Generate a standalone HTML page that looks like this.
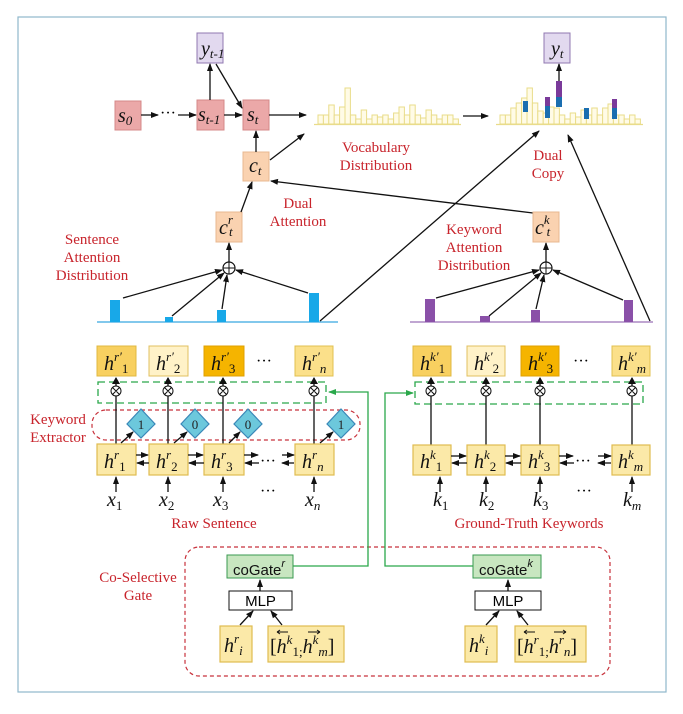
<!DOCTYPE html>
<html><head><meta charset="utf-8"><style>
html,body{margin:0;padding:0;background:#fff;}
svg{display:block;}
.s{font-family:"Liberation Serif",serif;}
.r{fill:#c8242c;font-size:15px;font-family:"Liberation Serif",serif;text-anchor:middle;}
.m{font-family:"Liberation Serif",serif;font-style:italic;font-size:20px;fill:#111;}
.sub{font-size:13px;}
.ln{stroke:#111;stroke-width:1.3;fill:none;}
.hb{fill:#fbe9a8;stroke:#e0bc50;stroke-width:1.2;}
.vb{fill:#fffbe6;stroke:#e9dc8a;stroke-width:1;}
</style></head><body>
<svg width="683" height="714" viewBox="0 0 683 714" xmlns="http://www.w3.org/2000/svg">
<defs>
<marker id="a" markerWidth="8" markerHeight="8" refX="7" refY="4" orient="auto" markerUnits="userSpaceOnUse"><path d="M0,1 L8,4 L0,7 z" fill="#111"/></marker>
<marker id="g" markerWidth="8" markerHeight="8" refX="7" refY="4" orient="auto" markerUnits="userSpaceOnUse"><path d="M0,1 L8,4 L0,7 z" fill="#2aa84a"/></marker>
</defs>
<rect x="18" y="17" width="648" height="675" fill="none" stroke="#8fb8cc" stroke-width="1.2"/>

<!-- decoder -->
<rect x="197" y="33" width="26" height="30" fill="#e2d9ef" stroke="#9078b0"/>
<text x="201" y="55" class="m">y<tspan class="sub" dy="3">t-1</tspan></text>
<rect x="115" y="101" width="26" height="29" fill="#eba8a8" stroke="#d48888"/>
<text x="118" y="122" class="m">s<tspan class="sub" dy="3">0</tspan></text>
<rect x="197" y="100" width="27" height="30" fill="#eba8a8" stroke="#d48888"/>
<text x="198" y="121" class="m">s<tspan class="sub" dy="3">t-1</tspan></text>
<rect x="243" y="100" width="26" height="30" fill="#eba8a8" stroke="#d48888"/>
<text x="247" y="121" class="m">s<tspan class="sub" dy="3">t</tspan></text>
<line x1="141" y1="115" x2="158" y2="115" class="ln" marker-end="url(#a)"/>
<text x="160" y="118" class="s" font-size="16">···</text>
<line x1="178" y1="115" x2="196" y2="115" class="ln" marker-end="url(#a)"/>
<line x1="224" y1="115" x2="242" y2="115" class="ln" marker-end="url(#a)"/>
<line x1="210" y1="100" x2="210" y2="64" class="ln" marker-end="url(#a)"/>
<line x1="216" y1="64" x2="242" y2="108" class="ln" marker-end="url(#a)"/>
<line x1="269" y1="115" x2="306" y2="115" class="ln" marker-end="url(#a)"/>
<rect x="243" y="152" width="26" height="29" fill="#fad2b0" stroke="#e8b890"/>
<text x="249" y="172" class="m">c<tspan class="sub" dy="3">t</tspan></text>
<line x1="256" y1="152" x2="256" y2="131" class="ln" marker-end="url(#a)"/>
<line x1="270" y1="160" x2="304" y2="134" class="ln" marker-end="url(#a)"/>
<rect x="216" y="212" width="26" height="30" fill="#fad2b0" stroke="#e8b890"/>
<text x="219" y="234" class="m">c<tspan class="sub" dy="-10">r</tspan><tspan class="sub" dx="-4" dy="12">t</tspan></text>
<line x1="241" y1="212" x2="252" y2="182" class="ln" marker-end="url(#a)"/>
<line x1="533" y1="213" x2="271" y2="181" class="ln" marker-end="url(#a)"/>

<!-- vocab hist -->
<g class="vb">
<rect x="318" y="115" width="5.4" height="9"/><rect x="323.4" y="115" width="5.4" height="9"/><rect x="328.8" y="105" width="5.4" height="19"/><rect x="334.2" y="115" width="5.4" height="9"/><rect x="339.6" y="107" width="5.4" height="17"/><rect x="345" y="88" width="5.4" height="36"/><rect x="350.4" y="115" width="5.4" height="9"/><rect x="355.8" y="119" width="5.4" height="5"/><rect x="361.2" y="110" width="5.4" height="14"/><rect x="366.6" y="119" width="5.4" height="5"/><rect x="372" y="115" width="5.4" height="9"/><rect x="377.4" y="117" width="5.4" height="7"/><rect x="382.8" y="115" width="5.4" height="9"/><rect x="388.2" y="119" width="5.4" height="5"/><rect x="393.6" y="113" width="5.4" height="11"/><rect x="399" y="107" width="5.4" height="17"/><rect x="404.4" y="115" width="5.4" height="9"/><rect x="409.8" y="105" width="5.4" height="19"/><rect x="415.2" y="115" width="5.4" height="9"/><rect x="420.6" y="118" width="5.4" height="6"/><rect x="426" y="110" width="5.4" height="14"/><rect x="431.4" y="115" width="5.4" height="9"/><rect x="436.8" y="119" width="5.4" height="5"/><rect x="442.2" y="115" width="5.4" height="9"/><rect x="447.6" y="115" width="5.4" height="9"/><rect x="453" y="119" width="5.4" height="5"/>
</g>
<line x1="314" y1="124.5" x2="461" y2="124.5" stroke="#e9dc8a" stroke-width="1.2"/>
<line x1="463" y1="116" x2="488" y2="116" class="ln" marker-end="url(#a)"/>
<!-- dual copy hist -->
<g class="vb">
<rect x="500" y="115" width="5.4" height="9"/><rect x="505.4" y="115" width="5.4" height="9"/><rect x="510.8" y="108" width="5.4" height="16"/><rect x="516.2" y="103" width="5.4" height="21"/><rect x="521.6" y="98" width="5.4" height="26"/><rect x="527" y="88" width="5.4" height="36"/><rect x="532.4" y="103" width="5.4" height="21"/><rect x="537.8" y="111" width="5.4" height="13"/><rect x="543.2" y="113" width="5.4" height="11"/><rect x="548.6" y="107" width="5.4" height="17"/><rect x="554" y="108" width="5.4" height="16"/><rect x="559.4" y="115" width="5.4" height="9"/><rect x="564.8" y="119" width="5.4" height="5"/><rect x="570.2" y="113" width="5.4" height="11"/><rect x="575.6" y="117" width="5.4" height="7"/><rect x="581" y="110" width="5.4" height="14"/><rect x="586.4" y="115" width="5.4" height="9"/><rect x="591.8" y="108" width="5.4" height="16"/><rect x="597.2" y="115" width="5.4" height="9"/><rect x="602.6" y="108" width="5.4" height="16"/><rect x="608" y="104" width="5.4" height="20"/><rect x="613.4" y="115" width="5.4" height="9"/><rect x="618.8" y="115" width="5.4" height="9"/><rect x="624.2" y="119" width="5.4" height="5"/><rect x="629.6" y="115" width="5.4" height="9"/><rect x="635" y="119" width="5.4" height="5"/>
</g>
<line x1="496" y1="124.5" x2="643" y2="124.5" stroke="#e9dc8a" stroke-width="1.2"/>
<rect x="523" y="101" width="5" height="11" fill="#1a6eb0"/>
<rect x="545" y="97" width="5" height="9" fill="#7a3a9a"/><rect x="545" y="106" width="5" height="12" fill="#1a6eb0"/>
<rect x="556" y="81" width="6" height="16" fill="#7a3a9a"/><rect x="556" y="97" width="6" height="10" fill="#1a6eb0"/>
<rect x="584" y="108" width="5" height="11" fill="#1a6eb0"/>
<rect x="612" y="99" width="5" height="9" fill="#7a3a9a"/><rect x="612" y="108" width="5" height="11" fill="#1a6eb0"/>
<line x1="559" y1="81" x2="559" y2="64" class="ln" marker-end="url(#a)"/>
<rect x="544" y="33" width="26" height="30" fill="#e2d9ef" stroke="#9078b0"/>
<text x="551" y="55" class="m">y<tspan class="sub" dy="3">t</tspan></text>

<text x="376" y="152" class="r">Vocabulary</text>
<text x="376" y="170" class="r">Distribution</text>
<text x="298" y="208" class="r">Dual</text>
<text x="298" y="226" class="r">Attention</text>
<text x="548" y="160" class="r">Dual</text>
<text x="548" y="178" class="r">Copy</text>
<text x="92" y="244" class="r">Sentence</text>
<text x="92" y="262" class="r">Attention</text>
<text x="92" y="280" class="r">Distribution</text>
<text x="474" y="234" class="r">Keyword</text>
<text x="474" y="252" class="r">Attention</text>
<text x="474" y="270" class="r">Distribution</text>

<!-- sentence attention -->
<line x1="97" y1="322" x2="338" y2="322" stroke="#38a8e0" stroke-width="1.3"/>
<rect x="110" y="300" width="10" height="22" fill="#18a8e8"/>
<rect x="165" y="317" width="8" height="5" fill="#18a8e8"/>
<rect x="217" y="310" width="9" height="12" fill="#18a8e8"/>
<rect x="309" y="293" width="10" height="29" fill="#18a8e8"/>
<circle cx="229" cy="268" r="6" fill="#fff" stroke="#111" stroke-width="1.2"/>
<path d="M223,268H235M229,262V274" stroke="#111" stroke-width="1"/>
<line x1="123" y1="298" x2="222" y2="270" class="ln" marker-end="url(#a)"/>
<line x1="172" y1="316" x2="224" y2="273" class="ln" marker-end="url(#a)"/>
<line x1="222" y1="309" x2="227" y2="275" class="ln" marker-end="url(#a)"/>
<line x1="308" y1="293" x2="236" y2="270" class="ln" marker-end="url(#a)"/>
<line x1="229" y1="262" x2="229" y2="243" class="ln" marker-end="url(#a)"/>
<line x1="320" y1="321" x2="539" y2="131" class="ln" marker-end="url(#a)"/>

<!-- keyword attention -->
<line x1="410" y1="322" x2="653" y2="322" stroke="#9a70b8" stroke-width="1.3"/>
<rect x="425" y="299" width="10" height="23" fill="#8a50a8"/>
<rect x="480" y="316" width="10" height="6" fill="#8a50a8"/>
<rect x="531" y="310" width="9" height="12" fill="#8a50a8"/>
<rect x="624" y="300" width="9" height="22" fill="#8a50a8"/>
<circle cx="546" cy="268" r="6" fill="#fff" stroke="#111" stroke-width="1.2"/>
<path d="M540,268H552M546,262V274" stroke="#111" stroke-width="1"/>
<line x1="436" y1="298" x2="539" y2="270" class="ln" marker-end="url(#a)"/>
<line x1="489" y1="316" x2="541" y2="273" class="ln" marker-end="url(#a)"/>
<line x1="536" y1="309" x2="544" y2="275" class="ln" marker-end="url(#a)"/>
<line x1="623" y1="300" x2="553" y2="270" class="ln" marker-end="url(#a)"/>
<line x1="546" y1="262" x2="546" y2="243" class="ln" marker-end="url(#a)"/>
<rect x="533" y="212" width="26" height="30" fill="#fad2b0" stroke="#e8b890"/>
<text x="535" y="234" class="m">c<tspan class="sub" dy="-10">k</tspan><tspan class="sub" dx="-3" dy="12">t</tspan></text>
<line x1="650" y1="321" x2="568" y2="135" class="ln" marker-end="url(#a)"/>

<!-- raw sentence encoder -->
<rect x="98" y="382" width="228" height="21" fill="none" stroke="#2aa84a" stroke-width="1.3" stroke-dasharray="7,4"/>
<rect x="92" y="410" width="268" height="30" rx="14" fill="none" stroke="#c8323c" stroke-width="1.2" stroke-dasharray="4,3"/>
<g stroke="#111" stroke-width="1.3">
<line x1="116" y1="444" x2="116" y2="378"/><line x1="168" y1="444" x2="168" y2="378"/><line x1="223" y1="444" x2="223" y2="378"/><line x1="314" y1="444" x2="314" y2="378"/>
</g>
<g fill="#111"><path d="M112,384L116,377L120,384z"/><path d="M164,384L168,377L172,384z"/><path d="M219,384L223,377L227,384z"/><path d="M310,384L314,377L318,384z"/></g>
<g fill="#fff" stroke="#111" stroke-width="1"><circle cx="116" cy="391" r="5"/><circle cx="168" cy="391" r="5"/><circle cx="223" cy="391" r="5"/><circle cx="314" cy="391" r="5"/></g>
<g stroke="#111" stroke-width="1"><path d="M112.5,387.5l7,7M119.5,387.5l-7,7M164.5,387.5l7,7M171.5,387.5l-7,7M219.5,387.5l7,7M226.5,387.5l-7,7M310.5,387.5l7,7M317.5,387.5l-7,7"/></g>
<rect x="97" y="346" width="39" height="30" fill="#f8d060" stroke="#e0b840"/>
<rect x="149" y="346" width="39" height="30" fill="#fff2c8" stroke="#e0c060"/>
<rect x="204" y="346" width="40" height="30" fill="#f5b400" stroke="#e0a000"/>
<rect x="295" y="346" width="38" height="30" fill="#fbe08a" stroke="#e0c050"/>
<text x="104" y="370" class="m">h<tspan class="sub" dy="-9">r′</tspan><tspan class="sub" dy="12" font-style="normal">1</tspan></text>
<text x="156" y="370" class="m">h<tspan class="sub" dy="-9">r′</tspan><tspan class="sub" dy="12" font-style="normal">2</tspan></text>
<text x="211" y="370" class="m">h<tspan class="sub" dy="-9">r′</tspan><tspan class="sub" dy="12" font-style="normal">3</tspan></text>
<text x="302" y="370" class="m">h<tspan class="sub" dy="-9">r′</tspan><tspan class="sub" dy="12">n</tspan></text>
<text x="256" y="366" class="s" font-size="16">···</text>
<g fill="#6cc8dc" stroke="#3a88b8" stroke-width="1.2">
<path d="M141,409L155,424L141,438L127,424z"/><path d="M195,409L209,424L195,438L181,424z"/><path d="M248,409L262,424L248,438L234,424z"/><path d="M341,409L355,424L341,438L327,424z"/>
</g>
<g class="s" font-size="13" text-anchor="middle" fill="#222"><text x="141" y="429">1</text><text x="195" y="429">0</text><text x="248" y="429">0</text><text x="341" y="429">1</text></g>
<line x1="121" y1="443" x2="133" y2="432" class="ln" marker-end="url(#a)"/>
<line x1="174" y1="443" x2="187" y2="432" class="ln" marker-end="url(#a)"/>
<line x1="229" y1="443" x2="240" y2="432" class="ln" marker-end="url(#a)"/>
<line x1="320" y1="443" x2="333" y2="432" class="ln" marker-end="url(#a)"/>
<text x="58" y="424" class="r">Keyword</text>
<text x="58" y="442" class="r">Extractor</text>
<g class="hb"><rect x="97" y="444" width="39" height="31"/><rect x="149" y="444" width="39" height="31"/><rect x="204" y="444" width="40" height="31"/><rect x="295" y="444" width="39" height="31"/></g>
<text x="104" y="468" class="m">h<tspan class="sub" dy="-9">r</tspan><tspan class="sub" dy="12" font-style="normal">1</tspan></text>
<text x="156" y="468" class="m">h<tspan class="sub" dy="-9">r</tspan><tspan class="sub" dy="12" font-style="normal">2</tspan></text>
<text x="211" y="468" class="m">h<tspan class="sub" dy="-9">r</tspan><tspan class="sub" dy="12" font-style="normal">3</tspan></text>
<text x="302" y="468" class="m">h<tspan class="sub" dy="-9">r</tspan><tspan class="sub" dy="12">n</tspan></text>
<g>
<line x1="136" y1="455" x2="148" y2="455" class="ln" marker-end="url(#a)"/><line x1="149" y1="463" x2="137" y2="463" class="ln" marker-end="url(#a)"/>
<line x1="188" y1="455" x2="203" y2="455" class="ln" marker-end="url(#a)"/><line x1="204" y1="463" x2="189" y2="463" class="ln" marker-end="url(#a)"/>
<line x1="244" y1="455" x2="258" y2="455" class="ln" marker-end="url(#a)"/><line x1="259" y1="463" x2="245" y2="463" class="ln" marker-end="url(#a)"/>
<line x1="282" y1="455" x2="294" y2="455" class="ln" marker-end="url(#a)"/><line x1="294" y1="463" x2="282" y2="463" class="ln" marker-end="url(#a)"/>
</g>
<text x="260" y="466" class="s" font-size="16">···</text>
<g class="ln"><line x1="116" y1="492" x2="116" y2="477" marker-end="url(#a)"/><line x1="168" y1="492" x2="168" y2="477" marker-end="url(#a)"/><line x1="223" y1="492" x2="223" y2="477" marker-end="url(#a)"/><line x1="314" y1="492" x2="314" y2="477" marker-end="url(#a)"/></g>
<text x="107" y="506" class="m">x<tspan class="sub" dy="4" font-style="normal">1</tspan></text>
<text x="159" y="506" class="m">x<tspan class="sub" dy="4" font-style="normal">2</tspan></text>
<text x="213" y="506" class="m">x<tspan class="sub" dy="4" font-style="normal">3</tspan></text>
<text x="305" y="506" class="m">x<tspan class="sub" dy="4">n</tspan></text>
<text x="260" y="496" class="s" font-size="16">···</text>
<text x="214" y="528" class="r">Raw Sentence</text>

<!-- keyword encoder -->
<rect x="415" y="382" width="228" height="22" fill="none" stroke="#2aa84a" stroke-width="1.3" stroke-dasharray="7,4"/>
<g stroke="#111" stroke-width="1.3">
<line x1="431" y1="445" x2="431" y2="378"/><line x1="486" y1="445" x2="486" y2="378"/><line x1="540" y1="445" x2="540" y2="378"/><line x1="632" y1="445" x2="632" y2="378"/>
</g>
<g fill="#111"><path d="M427,384L431,377L435,384z"/><path d="M482,384L486,377L490,384z"/><path d="M536,384L540,377L544,384z"/><path d="M628,384L632,377L636,384z"/></g>
<g fill="#fff" stroke="#111" stroke-width="1"><circle cx="431" cy="391" r="5"/><circle cx="486" cy="391" r="5"/><circle cx="540" cy="391" r="5"/><circle cx="632" cy="391" r="5"/></g>
<g stroke="#111" stroke-width="1"><path d="M427.5,387.5l7,7M434.5,387.5l-7,7M482.5,387.5l7,7M489.5,387.5l-7,7M536.5,387.5l7,7M543.5,387.5l-7,7M628.5,387.5l7,7M635.5,387.5l-7,7"/></g>
<rect x="413" y="346" width="38" height="30" fill="#f8d060" stroke="#e0b840"/>
<rect x="467" y="346" width="38" height="30" fill="#fff2c8" stroke="#e0c060"/>
<rect x="521" y="346" width="38" height="30" fill="#f5b400" stroke="#e0a000"/>
<rect x="612" y="346" width="38" height="30" fill="#fbe08a" stroke="#e0c050"/>
<text x="420" y="370" class="m">h<tspan class="sub" dy="-9">k′</tspan><tspan class="sub" dy="12" font-style="normal">1</tspan></text>
<text x="474" y="370" class="m">h<tspan class="sub" dy="-9">k′</tspan><tspan class="sub" dy="12" font-style="normal">2</tspan></text>
<text x="528" y="370" class="m">h<tspan class="sub" dy="-9">k′</tspan><tspan class="sub" dy="12" font-style="normal">3</tspan></text>
<text x="618" y="370" class="m">h<tspan class="sub" dy="-9">k′</tspan><tspan class="sub" dy="12">m</tspan></text>
<text x="573" y="366" class="s" font-size="16">···</text>
<g class="hb"><rect x="413" y="445" width="38" height="30"/><rect x="467" y="445" width="38" height="30"/><rect x="521" y="445" width="38" height="30"/><rect x="612" y="445" width="38" height="30"/></g>
<text x="420" y="468" class="m">h<tspan class="sub" dy="-9">k</tspan><tspan class="sub" dy="12" font-style="normal">1</tspan></text>
<text x="474" y="468" class="m">h<tspan class="sub" dy="-9">k</tspan><tspan class="sub" dy="12" font-style="normal">2</tspan></text>
<text x="528" y="468" class="m">h<tspan class="sub" dy="-9">k</tspan><tspan class="sub" dy="12" font-style="normal">3</tspan></text>
<text x="618" y="468" class="m">h<tspan class="sub" dy="-9">k</tspan><tspan class="sub" dy="12">m</tspan></text>
<line x1="451" y1="456" x2="466" y2="456" class="ln" marker-end="url(#a)"/><line x1="467" y1="463" x2="452" y2="463" class="ln" marker-end="url(#a)"/>
<line x1="505" y1="456" x2="520" y2="456" class="ln" marker-end="url(#a)"/><line x1="521" y1="463" x2="506" y2="463" class="ln" marker-end="url(#a)"/>
<line x1="559" y1="456" x2="573" y2="456" class="ln" marker-end="url(#a)"/><line x1="574" y1="463" x2="560" y2="463" class="ln" marker-end="url(#a)"/>
<line x1="598" y1="456" x2="611" y2="456" class="ln" marker-end="url(#a)"/><line x1="611" y1="463" x2="598" y2="463" class="ln" marker-end="url(#a)"/>
<text x="575" y="466" class="s" font-size="16">···</text>
<g class="ln"><line x1="440" y1="492" x2="440" y2="477" marker-end="url(#a)"/><line x1="486" y1="492" x2="486" y2="477" marker-end="url(#a)"/><line x1="540" y1="492" x2="540" y2="477" marker-end="url(#a)"/><line x1="632" y1="492" x2="632" y2="477" marker-end="url(#a)"/></g>
<text x="433" y="506" class="m">k<tspan class="sub" dy="4" font-style="normal">1</tspan></text>
<text x="479" y="506" class="m">k<tspan class="sub" dy="4" font-style="normal">2</tspan></text>
<text x="533" y="506" class="m">k<tspan class="sub" dy="4" font-style="normal">3</tspan></text>
<text x="623" y="506" class="m">k<tspan class="sub" dy="4">m</tspan></text>
<text x="576" y="496" class="s" font-size="16">···</text>
<text x="529" y="528" class="r">Ground-Truth Keywords</text>

<!-- co-selective gate -->
<rect x="185" y="547" width="425" height="129" rx="14" fill="none" stroke="#c8323c" stroke-width="1.2" stroke-dasharray="4,3"/>
<text x="138" y="582" class="r">Co-Selective</text>
<text x="138" y="600" class="r">Gate</text>
<polyline points="293,566 368,566 368,392 329,392" fill="none" stroke="#2aa84a" stroke-width="1.3" marker-end="url(#g)"/>
<polyline points="473,566 385,566 385,393 413,393" fill="none" stroke="#2aa84a" stroke-width="1.3" marker-end="url(#g)"/>
<rect x="227" y="555" width="66" height="23" fill="#c8e6c0" stroke="#3a9a50"/>
<text x="233" y="575" font-family="Liberation Sans,sans-serif" font-size="15" fill="#111">coGate<tspan font-size="11" font-style="italic" dy="-8">r</tspan></text>
<rect x="473" y="555" width="68" height="23" fill="#c8e6c0" stroke="#3a9a50"/>
<text x="479" y="575" font-family="Liberation Sans,sans-serif" font-size="15" fill="#111">coGate<tspan font-size="11" font-style="italic" dy="-8">k</tspan></text>
<rect x="229" y="591" width="63" height="19" fill="#fff" stroke="#111"/>
<text x="260.5" y="606" font-family="Liberation Sans,sans-serif" font-size="15" text-anchor="middle">MLP</text>
<rect x="475" y="591" width="66" height="19" fill="#fff" stroke="#111"/>
<text x="508" y="606" font-family="Liberation Sans,sans-serif" font-size="15" text-anchor="middle">MLP</text>
<line x1="260" y1="591" x2="260" y2="580" class="ln" marker-end="url(#a)"/>
<line x1="508" y1="591" x2="508" y2="580" class="ln" marker-end="url(#a)"/>
<line x1="240" y1="625" x2="253" y2="611" class="ln" marker-end="url(#a)"/>
<line x1="282" y1="625" x2="271" y2="611" class="ln" marker-end="url(#a)"/>
<line x1="486" y1="625" x2="499" y2="611" class="ln" marker-end="url(#a)"/>
<line x1="528" y1="625" x2="517" y2="611" class="ln" marker-end="url(#a)"/>
<g class="hb"><rect x="220" y="626" width="32" height="36"/><rect x="268" y="626" width="76" height="36"/><rect x="465" y="626" width="32" height="36"/><rect x="515" y="626" width="71" height="36"/></g>
<text x="224" y="652" class="m">h<tspan class="sub" dy="-9">r</tspan><tspan class="sub" dy="12">i</tspan></text>
<text x="469" y="652" class="m">h<tspan class="sub" dy="-9">k</tspan><tspan class="sub" dy="12">i</tspan></text>
<text x="270" y="653" class="m"><tspan font-style="normal">[</tspan>h<tspan class="sub" dy="-9">k</tspan><tspan class="sub" dy="12" font-style="normal">1;</tspan><tspan dy="-3">h</tspan><tspan class="sub" dy="-9">k</tspan><tspan class="sub" dy="12">m</tspan><tspan font-style="normal" dy="-3">]</tspan></text>
<text x="517" y="653" class="m"><tspan font-style="normal">[</tspan>h<tspan class="sub" dy="-9">r</tspan><tspan class="sub" dy="12" font-style="normal">1;</tspan><tspan dy="-3">h</tspan><tspan class="sub" dy="-9">r</tspan><tspan class="sub" dy="12">n</tspan><tspan font-style="normal" dy="-3">]</tspan></text>
<g stroke="#111" stroke-width="1" fill="none">
<path d="M277,632H288M277,632l3,-2M277,632l3,2"/><path d="M308,632H320M320,632l-3,-2M320,632l-3,2"/>
<path d="M524,632H535M524,632l3,-2M524,632l3,2"/><path d="M554,632H566M566,632l-3,-2M566,632l-3,2"/>
</g>
</svg>
</body></html>
